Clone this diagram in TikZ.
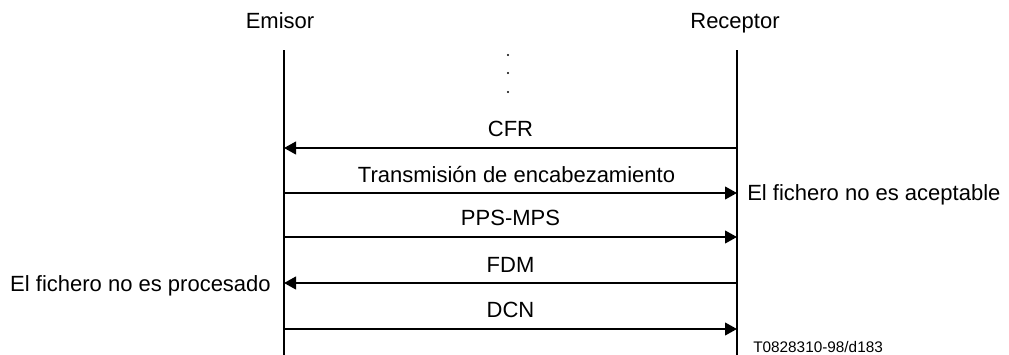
\documentclass[tikz,border=0pt]{standalone}
\usepackage{fontspec}
\setmainfont{Liberation Sans}
\usetikzlibrary{arrows.meta}
\begin{document}
\begin{tikzpicture}[x=0.75pt,y=-0.75pt,
  lifeline/.style={line width=1.5pt},
  msg/.style={line width=1.5pt,-{Triangle[length=9pt,width=9.5pt]}},
  lbl/.style={font=\fontsize{16.5}{19}\selectfont,inner sep=0pt},
  small/.style={font=\fontsize{11.5}{13}\selectfont,inner sep=0pt},
  dotmark/.style={fill=black,draw=none}]
\useasboundingbox (0,0) rectangle (1009,354);
% lifelines
\coordinate (etop) at (284,50);
\coordinate (ebot) at (284,356);
\coordinate (rtop) at (737,50);
\coordinate (rbot) at (737,356);
\draw[lifeline] (etop) -- (ebot);
\draw[lifeline] (rtop) -- (rbot);
% headers
\node[lbl,anchor=base] (emisor) at (280,28) {Emisor};
\node[lbl,anchor=base] (receptor) at (735,28) {Receptor};
% dots
\fill[dotmark] (508,55) circle (1.2);
\fill[dotmark] (508,73) circle (1.2);
\fill[dotmark] (508,92) circle (1.2);
% message points
\coordinate (e1) at (284,148); \coordinate (r1) at (737,148);
\coordinate (e2) at (284,193); \coordinate (r2) at (737,193);
\coordinate (e3) at (284,237); \coordinate (r3) at (737,237);
\coordinate (e4) at (284,283); \coordinate (r4) at (737,283);
\coordinate (e5) at (284,329); \coordinate (r5) at (737,329);
% messages
\draw[msg] (r1) -- node[lbl,above=7.5pt] (cfr) {CFR} (e1);
\draw[msg] (e2) -- node[lbl,above=6.8pt,xshift=4.5pt] (tx) {Transmisión de encabezamiento} (r2);
\draw[msg] (e3) -- node[lbl,above=7.5pt] (pps) {PPS-MPS} (r3);
\draw[msg] (r4) -- node[lbl,above=7.5pt] (fdm) {FDM} (e4);
\draw[msg] (e5) -- node[lbl,above=7.5pt] (dcn) {DCN} (r5);
% side notes
\node[lbl,anchor=base west] (acept) at (747,200) {El fichero no es aceptable};
\node[lbl,anchor=base east] (proc) at (271,291) {El fichero no es procesado};
\node[small,anchor=base west] (ref) at (753,352) {T0828310-98/d183};
\end{tikzpicture}
\end{document}
